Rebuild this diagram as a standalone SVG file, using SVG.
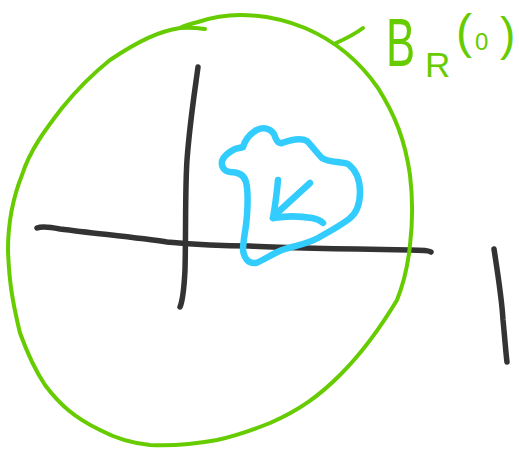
<svg xmlns="http://www.w3.org/2000/svg" width="519" height="451" viewBox="0 0 519 451">
<style>
.ink{fill:none;stroke-linecap:round;stroke-linejoin:round}
.blk{stroke:#333333;stroke-width:5.5}
.grn{stroke:#66cc00;stroke-width:4}
.blu{stroke:#33ccff;stroke-width:6.5}
.lbl{fill:#66cc00;font-family:"Liberation Sans",Arial,sans-serif}
</style>
<rect width="519" height="451" fill="#ffffff"/>
<g id="axes">
<path class="ink blk" d="M37,228 C42,226 50,227 60,229 C100,234 140,238 167,242 C200,245 230,246 250,246 C290,248 350,249 410,250 C420,250 428,250 431,252"/>
<path class="ink blk" d="M198,67 C195,90 190,120 187,160 C185,190 186,230 185,270 C184,290 183,300 180,307"/>
</g>
<g id="mark">
<path class="ink blk" d="M494,249 C498,275 502,300 503,320 C505,340 506,355 507,362"/>
</g>
<g id="disk">
<path class="ink grn" d="M205,29 C198,28 190,27 180,28 C160,31 140,40 110,60 C90,76 75,92 62,108 C45,130 30,150 22,175 C12,200 8,225 8,250 C9,280 12,300 20,333 C28,355 35,370 45,385 C60,405 75,418 100,430 C115,438 130,443 150,445 C170,446 195,444 217,440 C240,435 255,429 270,423 C300,410 320,395 340,375 C365,350 385,320 397,300 C405,280 408,265 410,245 C413,220 413,200 410,175 C405,140 395,115 378,88 C360,62 338,42 305,28 C285,20 265,15 240,15 C225,15 210,18 198,22 C190,24 184,26 180,28"/>
</g>
<g id="region">
<path class="ink blu" d="M243,147 C245,140 249,135 255,131 C262,126 270,128 274,134 C276,140 278,144 282,143 C290,140 300,137 307,141 C312,146 316,152 322,158 C330,163 340,161 348,164 C356,170 360,180 360,192 C360,204 357,213 349,219 C340,226 330,231 318,238 C305,245 293,246 282,250 C272,254 264,260 256,263 C248,264 244,258 243,250 C243,240 246,230 247,215 C248,200 248,190 246,182 C244,174 238,172 230,172 C224,171 221,167 222,161 C224,155 229,152 235,149 C238,148 241,148 243,147 Z"/>
<path class="ink blu" d="M310,183 C300,192 288,203 276,214 L273,218"/>
<path class="ink blu" d="M278,180 C277,192 275,206 273,218 C285,216 300,216 312,218 C318,219 321,221 323,223"/>
</g>
<g id="label">
<path class="ink grn" d="M336,43 C345,39 355,34 363,28"/>
<text class="lbl" transform="translate(386,66) scale(0.64,1)" font-size="68">B</text>
<text class="lbl" x="425" y="77" font-size="35">R</text>
<text class="lbl" x="456" y="48" font-size="48">(</text>
<text class="lbl" x="475" y="50" font-size="24">0</text>
<text class="lbl" x="500" y="50" font-size="46">)</text>
</g>
</svg>
